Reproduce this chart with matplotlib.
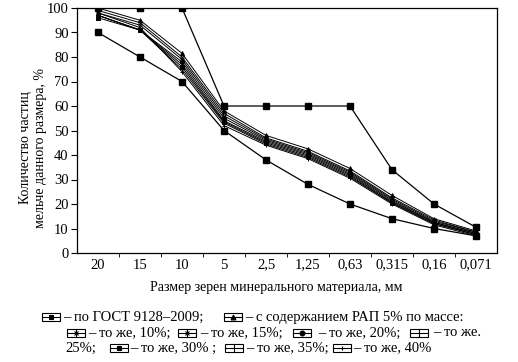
import numpy as np
import matplotlib
matplotlib.use("Agg")
import matplotlib.pyplot as plt
from matplotlib.lines import Line2D
from matplotlib.patches import Rectangle

plt.rcParams['font.family'] = ['Liberation Serif', 'DejaVu Serif']

################################################################################
# data
sizes = ['20', '15', '10', '5', '2,5', '1,25', '0,63', '0,315', '0,16', '0,071']
gost_upper = [100, 100, 100, 60, 60, 60, 60, 34, 20, 10.5]
gost_lower = [90, 80, 70, 50, 38, 28, 20, 14, 10, 7]
rap5  = [100, 95, 81.5, 58, 48, 42.5, 34.5, 23.5, 14, 9]
rap10 = [99, 94, 80, 57, 47, 41.5, 33.5, 22.5, 13.5, 8.5]
rap15 = [98, 93, 79, 56, 46.5, 41, 33, 22, 13, 8.5]
rap20 = [97, 91, 78, 55, 46, 40.5, 32.5, 21.5, 12.5, 8]
rap25 = [97, 91, 77, 54, 45.5, 40, 32, 21, 12.5, 8]
rap30 = [96, 91, 76, 53.5, 45, 39.5, 31.5, 20.5, 12, 7.5]
rap35 = [97, 91, 75, 53, 44.5, 39, 31, 20.5, 12, 7.5]
rap40 = [98, 92, 74, 52, 44, 38.5, 30.5, 20, 11.5, 7]
mixes = [rap5, rap10, rap15, rap20, rap25, rap30, rap35, rap40]
mix_markers = ['^', 'x', 'x', 'o', '|', 's', '|', '+']

################################################################################
W, H = 518, 362
fig = plt.figure(figsize=(W / 100, H / 100), dpi=100)
ax = fig.add_axes([77 / W, 1 - 253 / H, 420 / W, 245 / H])

x = np.arange(len(sizes))
ax.plot(x, gost_upper, color='k', lw=0.9, marker='s', ms=4)
ax.plot(x, gost_lower, color='k', lw=0.9, marker='s', ms=4)
for vals, m in zip(mixes, mix_markers):
	ax.plot(x, vals, color='k', lw=0.7, marker=m, ms=2.8, mew=0.7)

ax.set_xlim(-0.5, len(sizes) - 0.5)
ax.set_ylim(0, 100)
ax.set_xticks(x)
ax.set_xticklabels(sizes, fontsize=10.5)
ax.set_xticks(x[:-1] + 0.5, minor=True)
ax.tick_params(axis='x', which='major', length=0, pad=4)
ax.tick_params(axis='x', which='minor', length=3, direction='out', width=0.6)
ax.set_yticks(range(0, 101, 10))
ax.tick_params(axis='y', labelsize=10.5, length=4, width=0.8, pad=2)
for s in ax.spines.values():
	s.set_linewidth(0.9)

fig.text(33 / W, 1 - 148 / H, 'Количество частиц\nмельче данного размера, %',
		 rotation=90, ha='center', va='center', fontsize=10, linespacing=1.2)
fig.text(276 / W, 1 - 288 / H, 'Размер зерен минерального материала, мм',
		 ha='center', va='center', fontsize=10)

################################################################################
# legend drawn as text with small box icons
def icon(x0, yc, marker, vline=False):
	w, h = 18, 8
	fig.patches.append(Rectangle(((x0) / W, 1 - (yc + h / 2) / H), w / W, h / H,
								 transform=fig.transFigure, fill=False, lw=0.8, ec='k'))
	fig.lines.append(Line2D([x0 / W, (x0 + w) / W], [1 - yc / H, 1 - yc / H],
							transform=fig.transFigure, color='k', lw=0.8))
	if vline:
		fig.lines.append(Line2D([(x0 + w / 2) / W] * 2,
								[1 - (yc - h / 2) / H, 1 - (yc + h / 2) / H],
								transform=fig.transFigure, color='k', lw=0.8))
	if marker:
		fig.lines.append(Line2D([(x0 + w / 2) / W], [1 - yc / H], transform=fig.transFigure,
								color='k', marker=marker, ms=3.5, mew=0.8, ls='none'))

def txt(x0, yc, s):
	fig.text(x0 / W, 1 - yc / H, s, ha='left', va='center', fontsize=10.5)

y1, y2, y3 = 317, 333, 348
icon(42, y1, 's')
txt(63, y1, '– по ГОСТ 9128–2009;')
icon(224, y1, '^')
txt(245, y1, '– с содержанием РАП 5% по массе:')

icon(67, y2, 'x', vline=True)
txt(88, y2, '– то же, 10%;')
icon(178, y2, 'x', vline=True)
txt(200, y2, '– то же, 15%;')
icon(293, y2, 'o')
txt(318, y2, '– то же, 20%;')
icon(410, y2, None, vline=True)
txt(433, y2, '– то же.')

txt(65, y3, '25%;')
icon(110, y3, 's')
txt(130, y3, '– то же, 30% ;')
icon(225, y3, None, vline=True)
txt(246, y3, '– то же, 35%;')
icon(333, y3, '+')
txt(353, y3, '– то же, 40%')

fig.savefig('out.png', dpi=100)
